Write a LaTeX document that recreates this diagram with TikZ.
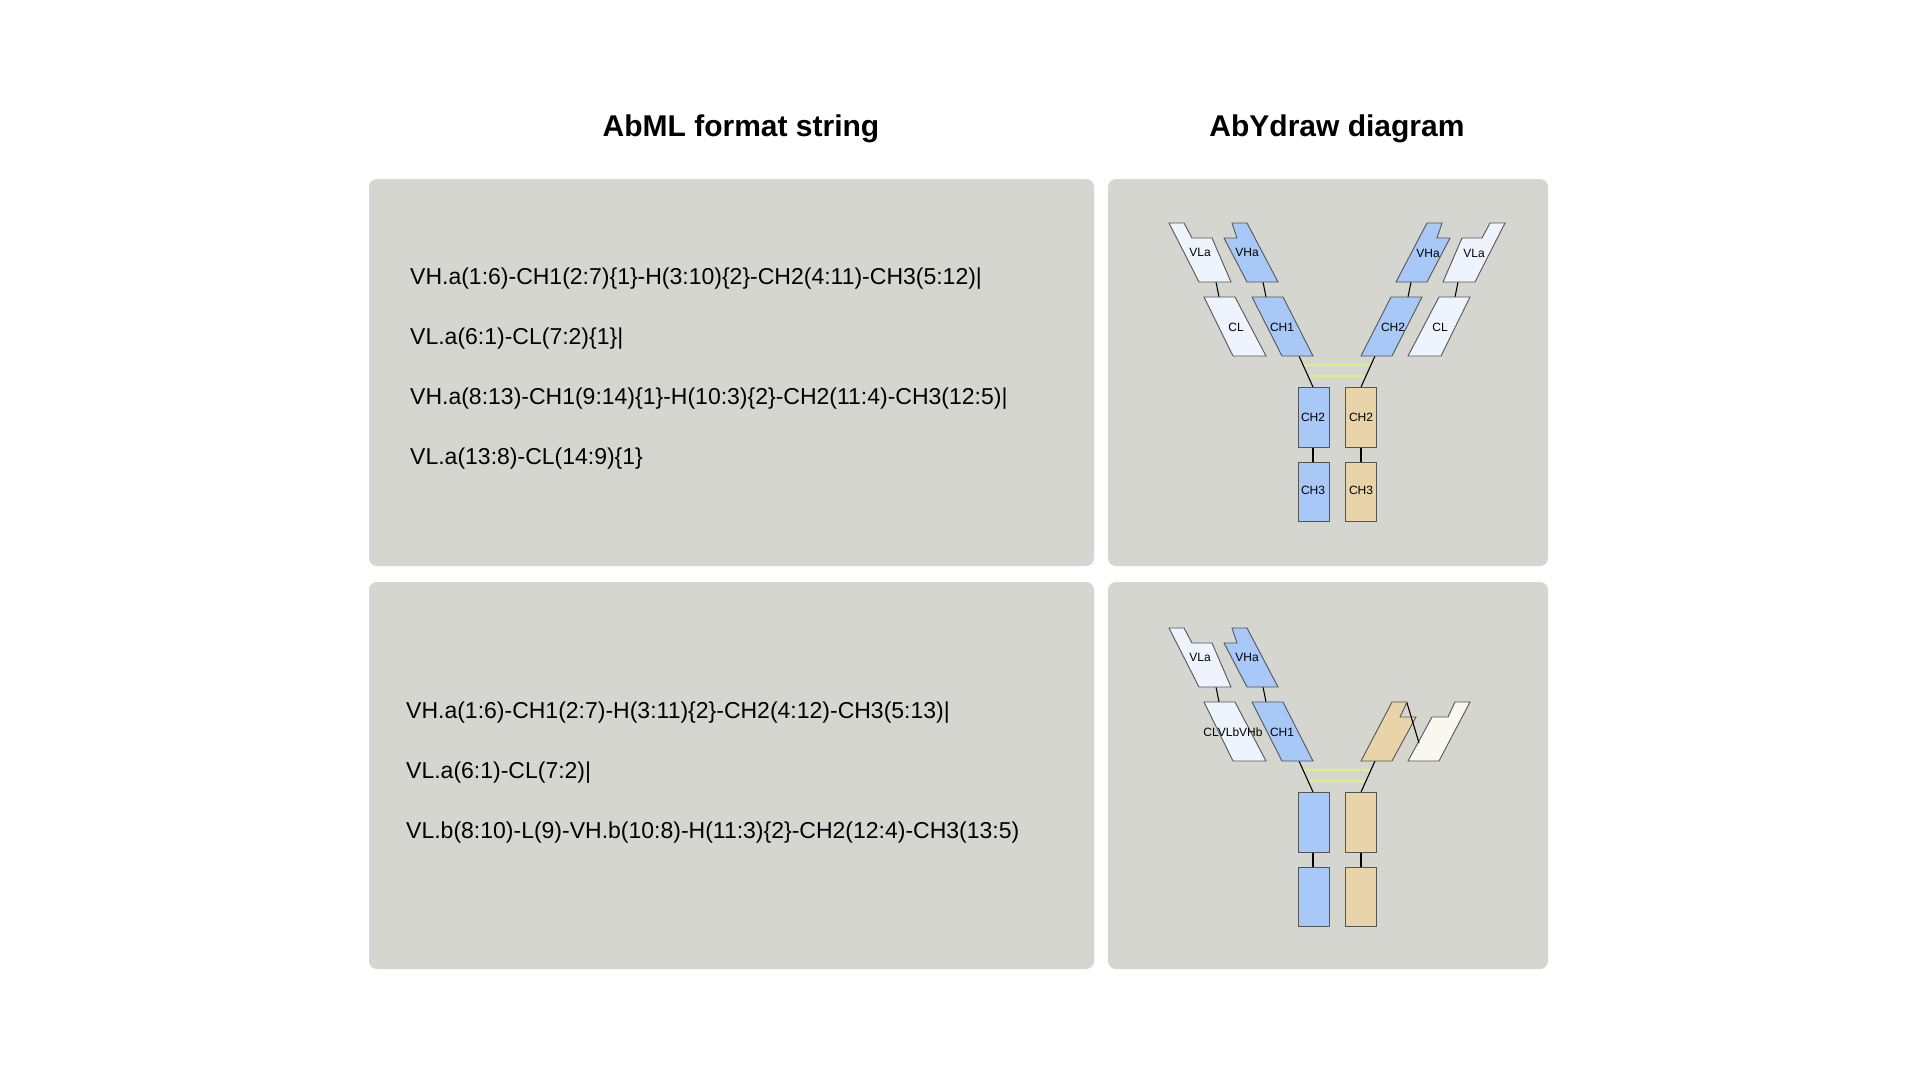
\documentclass[tikz,border=0pt]{standalone}
\usepackage{fontspec}
\setmainfont{Liberation Sans}
\begin{document}
\begin{tikzpicture}[x=1pt,y=-1pt,
  panel/.style={fill=panelbg,rounded corners=8pt,draw=none},
  dom/.style={draw=domline,line width=0.9pt,line join=miter},
  lb/.style={font=\fontsize{12}{14}\selectfont,inner sep=0pt},
  code/.style={font=\fontsize{23}{27}\selectfont,anchor=west,inner sep=0pt},
  ttl/.style={font=\bfseries\fontsize{30}{34}\selectfont,inner sep=0pt},
  link/.style={line width=1.1pt,black},
  hinge/.style={line width=1.1pt,hingecol}]
\definecolor{panelbg}{HTML}{D6D6D0}
\definecolor{domline}{HTML}{555555}
\definecolor{blu}{HTML}{A8C8F8}
\definecolor{pale}{HTML}{EEF4FE}
\definecolor{tan}{HTML}{E8D4A8}
\definecolor{cream}{HTML}{F8F8EE}
\definecolor{hingecol}{HTML}{E0F080}
\def\M#1{\the\numexpr2674-#1\relax}
\fill[white] (0,0) rectangle (1920,1080);
\useasboundingbox (0,0) rectangle (1920,1080);
\node[ttl] (t1) at (741,129) {AbML format string};
\node[ttl] (t2) at (1337,129) {AbYdraw diagram};
\fill[panel] (369,179) rectangle (1094,566);
\fill[panel] (1108,179) rectangle (1548,566);
\fill[panel] (369,582) rectangle (1094,969);
\fill[panel] (1108,582) rectangle (1548,969);
\node[code] (a1) at (410,279) {VH.a(1:6)-CH1(2:7)\{1\}-H(3:10)\{2\}-CH2(4:11)-CH3(5:12)|};
\node[code] (a2) at (410,339) {VL.a(6:1)-CL(7:2)\{1\}|};
\node[code] (a3) at (410,399) {VH.a(8:13)-CH1(9:14)\{1\}-H(10:3)\{2\}-CH2(11:4)-CH3(12:5)|};
\node[code] (a4) at (410,459) {VL.a(13:8)-CL(14:9)\{1\}};
\node[code] (b1) at (406,713) {VH.a(1:6)-CH1(2:7)-H(3:11)\{2\}-CH2(4:12)-CH3(5:13)|};
\node[code] (b2) at (406,773) {VL.a(6:1)-CL(7:2)|};
\node[code] (b3) at (406,833) {VL.b(8:10)-L(9)-VH.b(10:8)-H(11:3)\{2\}-CH2(12:4)-CH3(13:5)};
% ---------- top diagram ----------
\draw[link] (1216,282) -- (1219,297);
\draw[link] (1263,282) -- (1266,297);
\draw[link] (\M{1216},282) -- (\M{1219},297);
\draw[link] (\M{1263},282) -- (\M{1266},297);
\draw[link] (1299,356) -- (1313,387);
\draw[link] (\M{1299},356) -- (\M{1313},387);
\draw[link] (1313,447) -- (1313,462);
\draw[link] (1361,447) -- (1361,462);
\draw[hinge] (1304,365) -- (1370,365);
\draw[hinge] (1309,376) -- (1365,376);
\draw[dom,fill=pale] (1169,223)--(1184,223)--(1192,238)--(1212,238)--(1231,282)--(1199,282)--cycle;
\draw[dom,fill=blu] (1232,223)--(1247,223)--(1278,282)--(1247,282)--(1224,238)--(1237,238)--cycle;
\draw[dom,fill=pale] (1204,297)--(1235,297)--(1266,356)--(1233,356)--cycle;
\draw[dom,fill=blu] (1252,297)--(1283,297)--(1313,356)--(1282,356)--cycle;
\draw[dom,fill=pale] (\M{1169},223)--(\M{1184},223)--(\M{1192},238)--(\M{1212},238)--(\M{1231},282)--(\M{1199},282)--cycle;
\draw[dom,fill=blu] (\M{1232},223)--(\M{1247},223)--(\M{1278},282)--(\M{1247},282)--(\M{1224},238)--(\M{1237},238)--cycle;
\draw[dom,fill=pale] (\M{1204},297)--(\M{1235},297)--(\M{1266},356)--(\M{1233},356)--cycle;
\draw[dom,fill=blu] (\M{1252},297)--(\M{1283},297)--(\M{1313},356)--(\M{1282},356)--cycle;
\draw[dom,fill=blu] (1298,387) rectangle (1329,447);
\draw[dom,fill=blu] (1298,462) rectangle (1329,521);
\draw[dom,fill=tan] (1345,387) rectangle (1376,447);
\draw[dom,fill=tan] (1345,462) rectangle (1376,521);
\node[lb] (l1) at (1200,252) {VLa};
\node[lb] (l2) at (1247,252) {VHa};
\node[lb] (l3) at (1236,327) {CL};
\node[lb] (l4) at (1282,327) {CH1};
\node[lb] (l5) at (1428,253) {VHa};
\node[lb] (l6) at (1474,253) {VLa};
\node[lb] (l7) at (1393,327) {CH2};
\node[lb] (l8) at (1440,327) {CL};
\node[lb] (l9) at (1313,417) {CH2};
\node[lb] (l10) at (1313,490) {CH3};
\node[lb] (l11) at (1361,417) {CH2};
\node[lb] (l12) at (1361,490) {CH3};
% ---------- bottom diagram ----------
\begin{scope}[shift={(0,405)}]
\draw[link] (1216,282) -- (1219,297);
\draw[link] (1263,282) -- (1266,297);
\draw[link] (1299,356) -- (1313,387);
\draw[link] (\M{1299},356) -- (\M{1313},387);
\draw[link] (1313,447) -- (1313,462);
\draw[link] (1361,447) -- (1361,462);
\draw[hinge] (1304,365) -- (1370,365);
\draw[hinge] (1309,376) -- (1365,376);
\draw[dom,fill=pale] (1169,223)--(1184,223)--(1192,238)--(1212,238)--(1231,282)--(1199,282)--cycle;
\draw[dom,fill=blu] (1232,223)--(1247,223)--(1278,282)--(1247,282)--(1224,238)--(1237,238)--cycle;
\draw[dom,fill=pale] (1204,297)--(1235,297)--(1266,356)--(1233,356)--cycle;
\draw[dom,fill=blu] (1252,297)--(1283,297)--(1313,356)--(1282,356)--cycle;
\draw[dom,fill=tan] (1392,297)--(1407,297)--(1400,312)--(1416,312)--(1392,356)--(1361,356)--cycle;
\draw[dom,fill=cream] (1455,297)--(1470,297)--(1439,356)--(1408,356)--(1432,312)--(1448,312)--cycle;
\draw[link] (1407,298) -- (1419,338);
\draw[dom,fill=blu] (1298,387) rectangle (1329,447);
\draw[dom,fill=blu] (1298,462) rectangle (1329,521);
\draw[dom,fill=tan] (1345,387) rectangle (1376,447);
\draw[dom,fill=tan] (1345,462) rectangle (1376,521);
\node[lb] (m1) at (1200,252) {VLa};
\node[lb] (m2) at (1247,252) {VHa};
\node[lb] (m3) at (1233,327) {CLVLbVHb};
\node[lb] (m4) at (1282,327) {CH1};
\end{scope}
\end{tikzpicture}
\end{document}
